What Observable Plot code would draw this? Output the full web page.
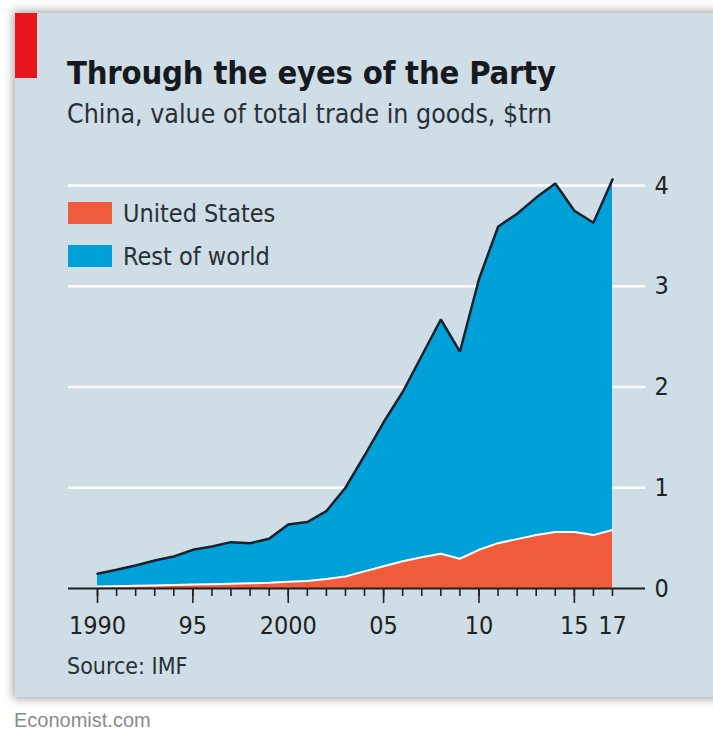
<!DOCTYPE html>
<html><head><meta charset="utf-8">
<script src="https://cdn.jsdelivr.net/npm/d3@7"></script>
<script src="https://cdn.jsdelivr.net/npm/@observablehq/plot@0.6"></script>
<style>
html,body{margin:0;padding:0;}
body{background:#fff;width:713px;height:734px;overflow:hidden;position:relative;font-family:"DejaVu Sans Condensed","DejaVu Sans",sans-serif;}
#panel{position:absolute;left:15px;top:13px;width:720px;height:684px;background:#cedde6;box-shadow:0 0 9px 2px rgba(0,0,0,0.35);}
#redbar{position:absolute;left:0;top:0;width:22px;height:65px;background:#e8151d;}
.t{position:absolute;white-space:nowrap;line-height:1;color:#1c1c1c;}
#title{left:52px;top:44px;font-size:32.5px;font-weight:bold;color:#161a1f;letter-spacing:-0.2px;}
#subtitle{left:52px;top:88px;font-size:26.5px;color:#2a2f35;}
.sw{position:absolute;left:53px;width:44px;height:22px;}
.lg{left:108px;font-size:25px;color:#2a2f35;}
#source{left:52px;top:642px;font-size:23px;color:#2a2f35;}
#chart{position:absolute;left:0;top:137px;}
#eco{position:absolute;left:14px;top:710px;font-family:"Liberation Sans",Arial,sans-serif;font-size:20px;color:#8a8a8a;line-height:1;}
</style>
</head><body>
<div id="panel">
  <div id="redbar"></div>
  <div class="t" id="title">Through the eyes of the Party</div>
  <div class="t" id="subtitle">China, value of total trade in goods, $trn</div>
  <div id="chart"></div>
  <div class="sw" style="top:189px;background:#f05b3d"></div>
  <div class="t lg" style="top:188px">United States</div>
  <div class="sw" style="top:232px;background:#00a1d9"></div>
  <div class="t lg" style="top:231px">Rest of world</div>
  <div class="t" id="source">Source: IMF</div>
</div>
<div id="eco">Economist.com</div>
<script>
const years = [1990,1991,1992,1993,1994,1995,1996,1997,1998,1999,2000,2001,2002,2003,2004,2005,2006,2007,2008,2009,2010,2011,2012,2013,2014,2015,2016,2017];
const totalTrade = [0.146,0.186,0.228,0.278,0.318,0.384,0.417,0.460,0.450,0.493,0.636,0.659,0.768,1.00,1.32,1.65,1.95,2.31,2.67,2.35,3.07,3.59,3.72,3.88,4.02,3.75,3.63,4.06];
const usTrade = [0.020,0.022,0.027,0.030,0.035,0.040,0.043,0.048,0.052,0.056,0.068,0.075,0.095,0.119,0.17,0.22,0.27,0.31,0.345,0.295,0.384,0.45,0.49,0.53,0.56,0.56,0.53,0.58];
const seriesNames = ["United States","Rest of world"];
const seriesColors = ["#f05b3d","#00a1d9"];
const yTicks = [0,1,2,3,4];
const majorYears = [1990,1995,2000,2005,2010,2015];
const labelYears = [1990,1995,2000,2005,2010,2015,2017];
const labelTexts = ["1990","95","2000","05","10","15","17"];

const stacked = [];
years.forEach((y,i)=>{
  stacked.push({year:y, series:seriesNames[0], value:usTrade[i]});
  stacked.push({year:y, series:seriesNames[1], value:totalTrade[i]-usTrade[i]});
});
const usRows = years.map((y,i)=>({year:y, value:usTrade[i]}));
const totRows = years.map((y,i)=>({year:y, value:totalTrade[i]}));

const chart = Plot.plot({
  width: 698, height: 500,
  marginLeft: 82, marginRight: 101, marginTop: 35, marginBottom: 62,
  style: {background:"transparent", fontFamily:"'DejaVu Sans Condensed','DejaVu Sans',sans-serif", color:"#222", overflow:"visible"},
  x: {domain:[1990,2017]},
  y: {domain:[0,4]},
  color: {domain: seriesNames, range: seriesColors},
  marks: [
    Plot.ruleY(yTicks.slice(1), {stroke:"#fff", strokeWidth:2.5, insetLeft:-29, insetRight:-33}),
    Plot.areaY(stacked, {x:"year", y:"value", fill:"series", order: seriesNames}),
    Plot.lineY(usRows, {x:"year", y:"value", stroke:"#fff", strokeWidth:2}),
    Plot.lineY(totRows, {x:"year", y:"value", stroke:"#17212c", strokeWidth:2.5, strokeLinejoin:"miter"}),
    Plot.ruleY([0], {stroke:"#1f1f1f", strokeWidth:2, insetLeft:-29, insetRight:-33}),
    Plot.axisX(years, {tickSize:8, tickFormat:()=>"", strokeWidth:1.6, label:null}),
    Plot.axisX(majorYears, {tickSize:15, tickFormat:()=>"", strokeWidth:1.6, label:null}),
    Plot.axisX(labelYears, {tickSize:0, tickPadding:28, tickFormat:d=>labelTexts[labelYears.indexOf(d)], fontSize:25, fill:"#222", label:null}),
    Plot.axisY(yTicks, {anchor:"right", tickSize:0, tickPadding:42, tickFormat:d=>String(d), fontSize:25, fill:"#222", label:null})
  ]
});
document.getElementById("chart").appendChild(chart);
</script>
</body></html>
